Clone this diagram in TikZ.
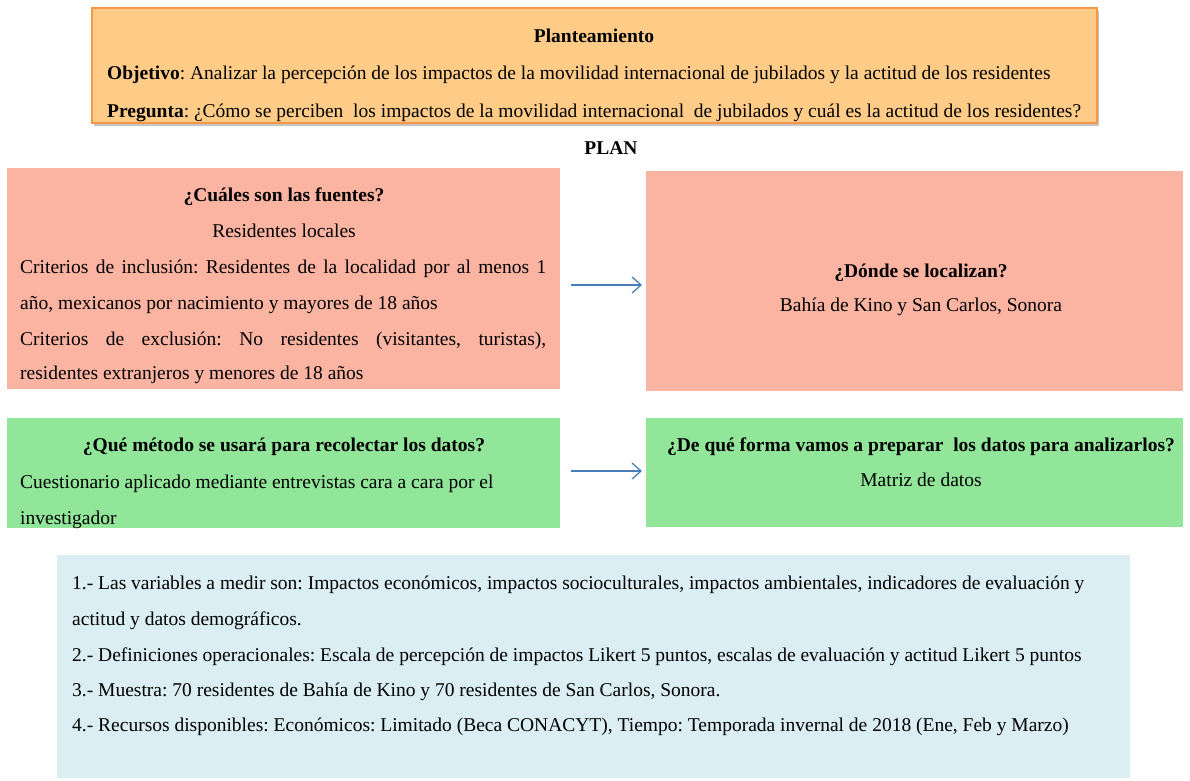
\documentclass[tikz,border=0pt]{standalone}
\usepackage{fontspec}
\setmainfont{Liberation Serif}
\usetikzlibrary{arrows.meta,shadows}
\definecolor{orfill}{HTML}{FFCC88}
\definecolor{ordraw}{HTML}{F79646}
\definecolor{pinkfill}{HTML}{FBB4A2}
\definecolor{greenfill}{HTML}{92E69A}
\definecolor{bluefill}{HTML}{DAEEF3}
\definecolor{arrblue}{HTML}{4A7EBB}
\newcommand{\jline}[1]{\makebox[526pt][s]{#1}}
\frenchspacing
\begin{document}
\begin{tikzpicture}[x=1pt,y=-1pt,
  box/.style={anchor=north west, inner sep=0pt, outer sep=0pt},
  txt/.style={anchor=base, inner sep=0pt, font=\fontsize{19.5}{22}\selectfont},
  btxt/.style={anchor=base, inner sep=0pt, font=\fontsize{19.5}{22}\selectfont\bfseries},
  ltxt/.style={anchor=base west, inner sep=0pt, font=\fontsize{19.5}{22}\selectfont},
  arr/.style={draw=arrblue, line width=1.3pt, -{Straight Barb[length=9pt,width=16pt]}}]
\useasboundingbox (0,0) rectangle (1190,780);
% boxes
\node[box, fill=orfill, draw=ordraw, line width=1.2pt, minimum width=1005pt, minimum height=115pt,
  drop shadow={shadow xshift=2pt, shadow yshift=-3pt, fill=black!45, opacity=0.5}] (plant) at (92,8) {};
\node[box, fill=pinkfill, minimum width=553pt, minimum height=221pt] (src) at (7,168) {};
\node[box, fill=pinkfill, minimum width=537pt, minimum height=220pt] (loc) at (646,171) {};
\node[box, fill=greenfill, minimum width=553pt, minimum height=110pt] (met) at (7,418) {};
\node[box, fill=greenfill, minimum width=537pt, minimum height=109pt] (prep) at (646,418) {};
\node[box, fill=bluefill, minimum width=1073pt, minimum height=223pt] (res) at (57,555) {};
% planteamiento
\node[btxt] (pt) at (594,42) {Planteamiento};
\node[ltxt] (po) at (107,79) {\textbf{Objetivo}: Analizar la percepción de los impactos de la movilidad internacional de jubilados y la actitud de los residentes};
\node[ltxt] (pp) at (107,117) {\textbf{Pregunta}: ¿Cómo se perciben\ \ los impactos de la movilidad internacional\ \ de jubilados y cuál es la actitud de los residentes?};
\node[btxt] (plan) at (611,154) {PLAN};
% fuentes
\node[btxt] (s1) at (284,201) {¿Cuáles son las fuentes?};
\node[txt] (s2) at (284,237) {Residentes locales};
\node[ltxt] (s3) at (20,273) {\jline{Criterios de inclusión: Residentes de la localidad por al menos 1}};
\node[ltxt] (s4) at (20,309) {año, mexicanos por nacimiento y mayores de 18 años};
\node[ltxt] (s5) at (20,345) {\jline{Criterios de exclusión: No residentes (visitantes, turistas),}};
\node[ltxt] (s6) at (20,379) {residentes extranjeros y menores de 18 años};
% localizan
\node[btxt] (l1) at (921,277) {¿Dónde se localizan?};
\node[txt] (l2) at (921,311) {Bahía de Kino y San Carlos, Sonora};
% metodo
\node[btxt] (m1) at (284,451) {¿Qué método se usará para recolectar los datos?};
\node[ltxt] (m2) at (20,488) {Cuestionario aplicado mediante entrevistas cara a cara por el};
\node[ltxt] (m3) at (20,524) {investigador};
% preparar
\node[btxt] (r1) at (921,451) {¿De qué forma vamos a preparar\ \ los datos para analizarlos?};
\node[txt] (r2) at (921,486) {Matriz de datos};
% resumen
\node[ltxt] (b1) at (72,589) {1.- Las variables a medir son: Impactos económicos, impactos socioculturales, impactos ambientales, indicadores de evaluación y};
\node[ltxt] (b2) at (72,625) {actitud y datos demográficos.};
\node[ltxt] (b3) at (72,661) {2.- Definiciones operacionales: Escala de percepción de impactos Likert 5 puntos, escalas de evaluación y actitud Likert 5 puntos};
\node[ltxt] (b4) at (72,696) {3.- Muestra: 70 residentes de Bahía de Kino y 70 residentes de San Carlos, Sonora.};
\node[ltxt] (b5) at (72,731) {4.- Recursos disponibles: Económicos: Limitado (Beca CONACYT), Tiempo: Temporada invernal de 2018 (Ene, Feb y Marzo)};
% arrows
\draw[arr, shorten <=11pt, shorten >=4pt] (src.east |- 0,285) -- (loc.west |- 0,285);
\draw[arr, shorten <=11pt, shorten >=4pt] (met.east |- 0,471) -- (prep.west |- 0,471);
\end{tikzpicture}
\end{document}
